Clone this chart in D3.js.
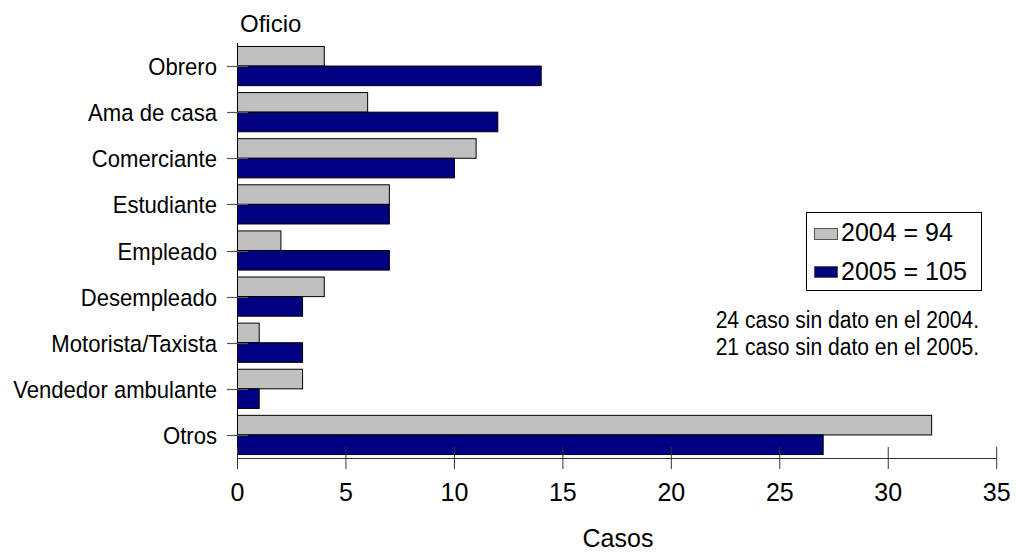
<!DOCTYPE html>
<html><head><meta charset="utf-8">
<script src="https://cdn.jsdelivr.net/npm/d3@7"></script>
<style>body{margin:0;background:#fff}svg{display:block}text{font-family:"Liberation Sans",Arial,sans-serif;fill:#000}</style>
</head><body><svg id="c" width="1016" height="553"></svg>
<script>
const categories = ["Obrero","Ama de casa","Comerciante","Estudiante","Empleado","Desempleado","Motorista/Taxista","Vendedor ambulante","Otros"];
const values2004 = [4,6,11,7,2,4,1,3,32];
const values2005 = [14,12,10,7,7,3,3,1,27];
const seriesNames = ["2004 = 94","2005 = 105"];
const xTicks = [0,5,10,15,20,25,30,35];
const notes = ["24 caso sin dato en el 2004.","21 caso sin dato en el 2005."];
const colors = ["#c0c0c0","#000080"];

const svg = d3.select("#c");
const x = d3.scaleLinear().domain([0,35]).range([237.5,996.7]);
const y = d3.scaleBand().domain(categories).range([43,458]).paddingInner(0.15).paddingOuter(0.075);
const ys = d3.scaleBand().domain([0,1]).range([0,y.bandwidth()]);

const data = categories.map((c,i)=>({c, v:[values2004[i],values2005[i]]}));
const g = svg.append("g");
data.forEach(d=>{
  d.v.forEach((v,j)=>{
    g.append("rect")
      .attr("x", x(0)).attr("y", y(d.c)+ys(j))
      .attr("width", x(v)-x(0)).attr("height", ys.bandwidth())
      .attr("fill", colors[j]).attr("stroke","#000").attr("stroke-width",1);
  });
});

// y axis
svg.append("line").attr("x1",x(0)).attr("x2",x(0)).attr("y1",43).attr("y2",458).attr("stroke","#000");
categories.forEach(c=>{
  const cy = Math.round(y(c)+y.bandwidth()/2)+0.5;
  svg.append("line").attr("x1",227).attr("x2",248).attr("y1",cy).attr("y2",cy).attr("stroke","#555").attr("stroke-width",1.2);
  svg.append("g").attr("transform",`translate(217,${cy+8.5}) scale(0.94,1)`)
    .append("text").attr("text-anchor","end").style("font-size","23.5px").text(c);
});

// x axis
svg.append("line").attr("x1",x(0)).attr("x2",x(35)).attr("y1",458.5).attr("y2",458.5).attr("stroke","#333");
xTicks.forEach(t=>{
  svg.append("line").attr("x1",x(t)).attr("x2",x(t)).attr("y1",447).attr("y2",469).attr("stroke","#333");
  svg.append("text").attr("x",x(t)).attr("y",501).attr("text-anchor","middle").style("font-size","25px").text(t);
});

svg.append("text").attr("x",618).attr("y",547).attr("text-anchor","middle").style("font-size","25px").text("Casos");
svg.append("text").attr("x",240).attr("y",32).style("font-size","24px").text("Oficio");

// legend
svg.append("rect").attr("x",806.5).attr("y",212.5).attr("width",175).attr("height",78).attr("fill","#fff").attr("stroke","#000");
const legY = [[228,241],[266,280]];
seriesNames.forEach((s,j)=>{
  svg.append("rect").attr("x",814.5).attr("y",legY[j][0]+0.5).attr("width",23).attr("height",11).attr("fill",colors[j]).attr("stroke","#555");
  svg.append("text").attr("x",841).attr("y",legY[j][1]).style("font-size","25px").text(s);
});

notes.forEach((n,i)=>{
  svg.append("g").attr("transform",`translate(979,${328+i*27}) scale(0.86,1)`)
    .append("text").attr("text-anchor","end").style("font-size","24.5px").text(n);
});
</script></body></html>
